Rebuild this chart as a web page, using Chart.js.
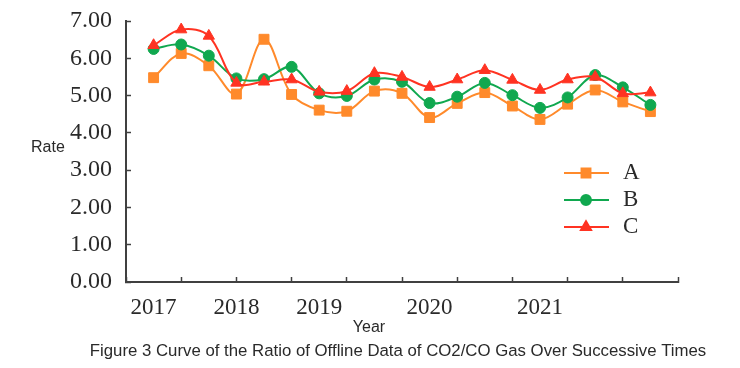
<!DOCTYPE html>
<html><head><meta charset="utf-8">
<script src="https://cdn.jsdelivr.net/npm/chart.js@4/dist/chart.umd.min.js"></script>
<style>html,body{margin:0;padding:0;background:#fff}#wrap{position:relative;width:740px;height:368px}</style>
</head><body><div id="wrap"><canvas id="c" width="740" height="368"></canvas></div>
<script>
// ---- data ----
const positions = [0,1,2,3,4,5,6,7,8,9,10,11,12,13,14,15,16,17,18];
const yearLabels = ['2017','2018','2019','2020','2021'];
const yearPositions = [0,3,6,10,14];
const tickMarkPositions = [-1,1,3,5,7,9,11,13,15,17,19];
const yTickValues = [0,1,2,3,4,5,6,7];
const seriesNames = ['A','B','C'];
const seriesA = [5.48,6.13,5.80,5.04,6.51,5.03,4.61,4.58,5.12,5.06,4.41,4.79,5.08,4.72,4.36,4.77,5.15,4.83,4.57];
const seriesB = [6.25,6.37,6.07,5.46,5.44,5.77,5.06,4.99,5.43,5.37,4.80,4.97,5.34,5.01,4.67,4.95,5.55,5.22,4.75];
const seriesC = [6.35,6.77,6.60,5.34,5.37,5.43,5.10,5.12,5.60,5.50,5.23,5.43,5.68,5.42,5.15,5.43,5.50,5.06,5.08];
const xTitle = 'Year';
const yTitle = 'Rate';
const caption = 'Figure 3 Curve of the Ratio of Offline Data of CO2/CO Gas Over Successive Times';

// ---- styles ----
const colors = ['#FF8A2B', '#10A84F', '#FF3322'];
const styles = ['rect', 'circle', 'triangle'];
const radii = [7, 5.5, 6.5];
const axisColor = '#404040';
const textColor = '#2a2a2a';
const serif = '"Liberation Serif", "Times New Roman", serif';
const sans = '"Liberation Sans", Arial, sans-serif';

const allSeries = [seriesA, seriesB, seriesC];
const datasets = allSeries.map((s, i) => ({
  label: seriesNames[i],
  data: s.map((v, j) => ({x: positions[j], y: v})),
  borderColor: colors[i],
  backgroundColor: colors[i],
  borderWidth: 2,
  tension: 0.35,
  pointStyle: styles[i],
  pointRadius: radii[i],
  pointBorderWidth: 1,
  pointBorderColor: colors[i],
  pointBackgroundColor: colors[i],
  order: 2 - i
}));

const xTickValues = Array.from(new Set(tickMarkPositions.concat(yearPositions))).sort((a,b)=>a-b);

const textPlugin = {
  id: 'texts',
  afterDraw(chart) {
    const ctx = chart.ctx;
    const area = chart.chartArea;
    ctx.save();
    ctx.fillStyle = textColor;
    ctx.textBaseline = 'middle';
    ctx.font = '16px ' + sans;
    ctx.textAlign = 'left';
    ctx.fillText(yTitle, 31, 148);
    ctx.textAlign = 'center';
    ctx.fillText(xTitle, 369, 328);
    ctx.font = '16.8px ' + sans;
    ctx.fillText(caption, 398, 351);
    // legend
    const lx0 = area.right - 114, lx1 = area.right - 69, mx = area.right - 92, tx = area.right - 55;
    chart.data.datasets.forEach((ds, i) => {
      const y = 173 + 27 * i;
      ctx.strokeStyle = ds.borderColor;
      ctx.lineWidth = 2;
      ctx.beginPath(); ctx.moveTo(lx0, y); ctx.lineTo(lx1, y); ctx.stroke();
      ctx.fillStyle = ds.backgroundColor;
      Chart.helpers.drawPoint(ctx, {pointStyle: ds.pointStyle, radius: ds.pointRadius * 0.9, borderWidth: 1, rotation: 0}, mx, y);
      ctx.fill();
      ctx.fillStyle = textColor;
      ctx.font = '23px ' + serif;
      ctx.textAlign = 'left';
      ctx.fillText(ds.label, tx, y);
    });
    ctx.restore();
  }
};

new Chart(document.getElementById('c'), {
  type: 'line',
  data: { datasets },
  plugins: [textPlugin],
  options: {
    responsive: false,
    animation: false,
    devicePixelRatio: 1,
    layout: { padding: { left: 0, top: 21, right: 62, bottom: 0 } },
    plugins: { legend: { display: false }, tooltip: { enabled: false }, title: { display: false } },
    scales: {
      x: {
        type: 'linear',
        min: -1, max: 19,
        afterFit(scale) { scale.height = 86; scale.paddingLeft = 0; scale.paddingRight = 0; },
        afterBuildTicks(scale) { scale.ticks = xTickValues.map(v => ({value: v})); },
        ticks: {
          autoSkip: false, maxRotation: 0, padding: 17,
          color: textColor, font: { family: serif, size: 23 },
          callback(value) { const k = yearPositions.indexOf(value); return k >= 0 ? yearLabels[k] : ''; }
        },
        grid: {
          drawOnChartArea: false, drawTicks: true, tickLength: -5, tickWidth: 1.5,
          tickColor: (c) => (c.tick && Math.abs(c.tick.value % 2) === 1) ? axisColor : 'rgba(0,0,0,0)'
        },
        border: { display: true, color: axisColor, width: 2 }
      },
      y: {
        min: 0, max: 7,
        afterFit(scale) { scale.width = 126; scale.paddingTop = 0; scale.paddingBottom = 0; },
        afterBuildTicks(scale) { scale.ticks = yTickValues.map(v => ({value: v})); },
        ticks: {
          padding: 19, color: textColor, font: { family: serif, size: 24 },
          callback(value) { return Number(value).toFixed(2); }
        },
        grid: { drawOnChartArea: false, drawTicks: true, tickLength: -5, tickWidth: 1.5, tickColor: axisColor },
        border: { display: true, color: axisColor, width: 2 }
      }
    }
  }
});
</script>
</body></html>
